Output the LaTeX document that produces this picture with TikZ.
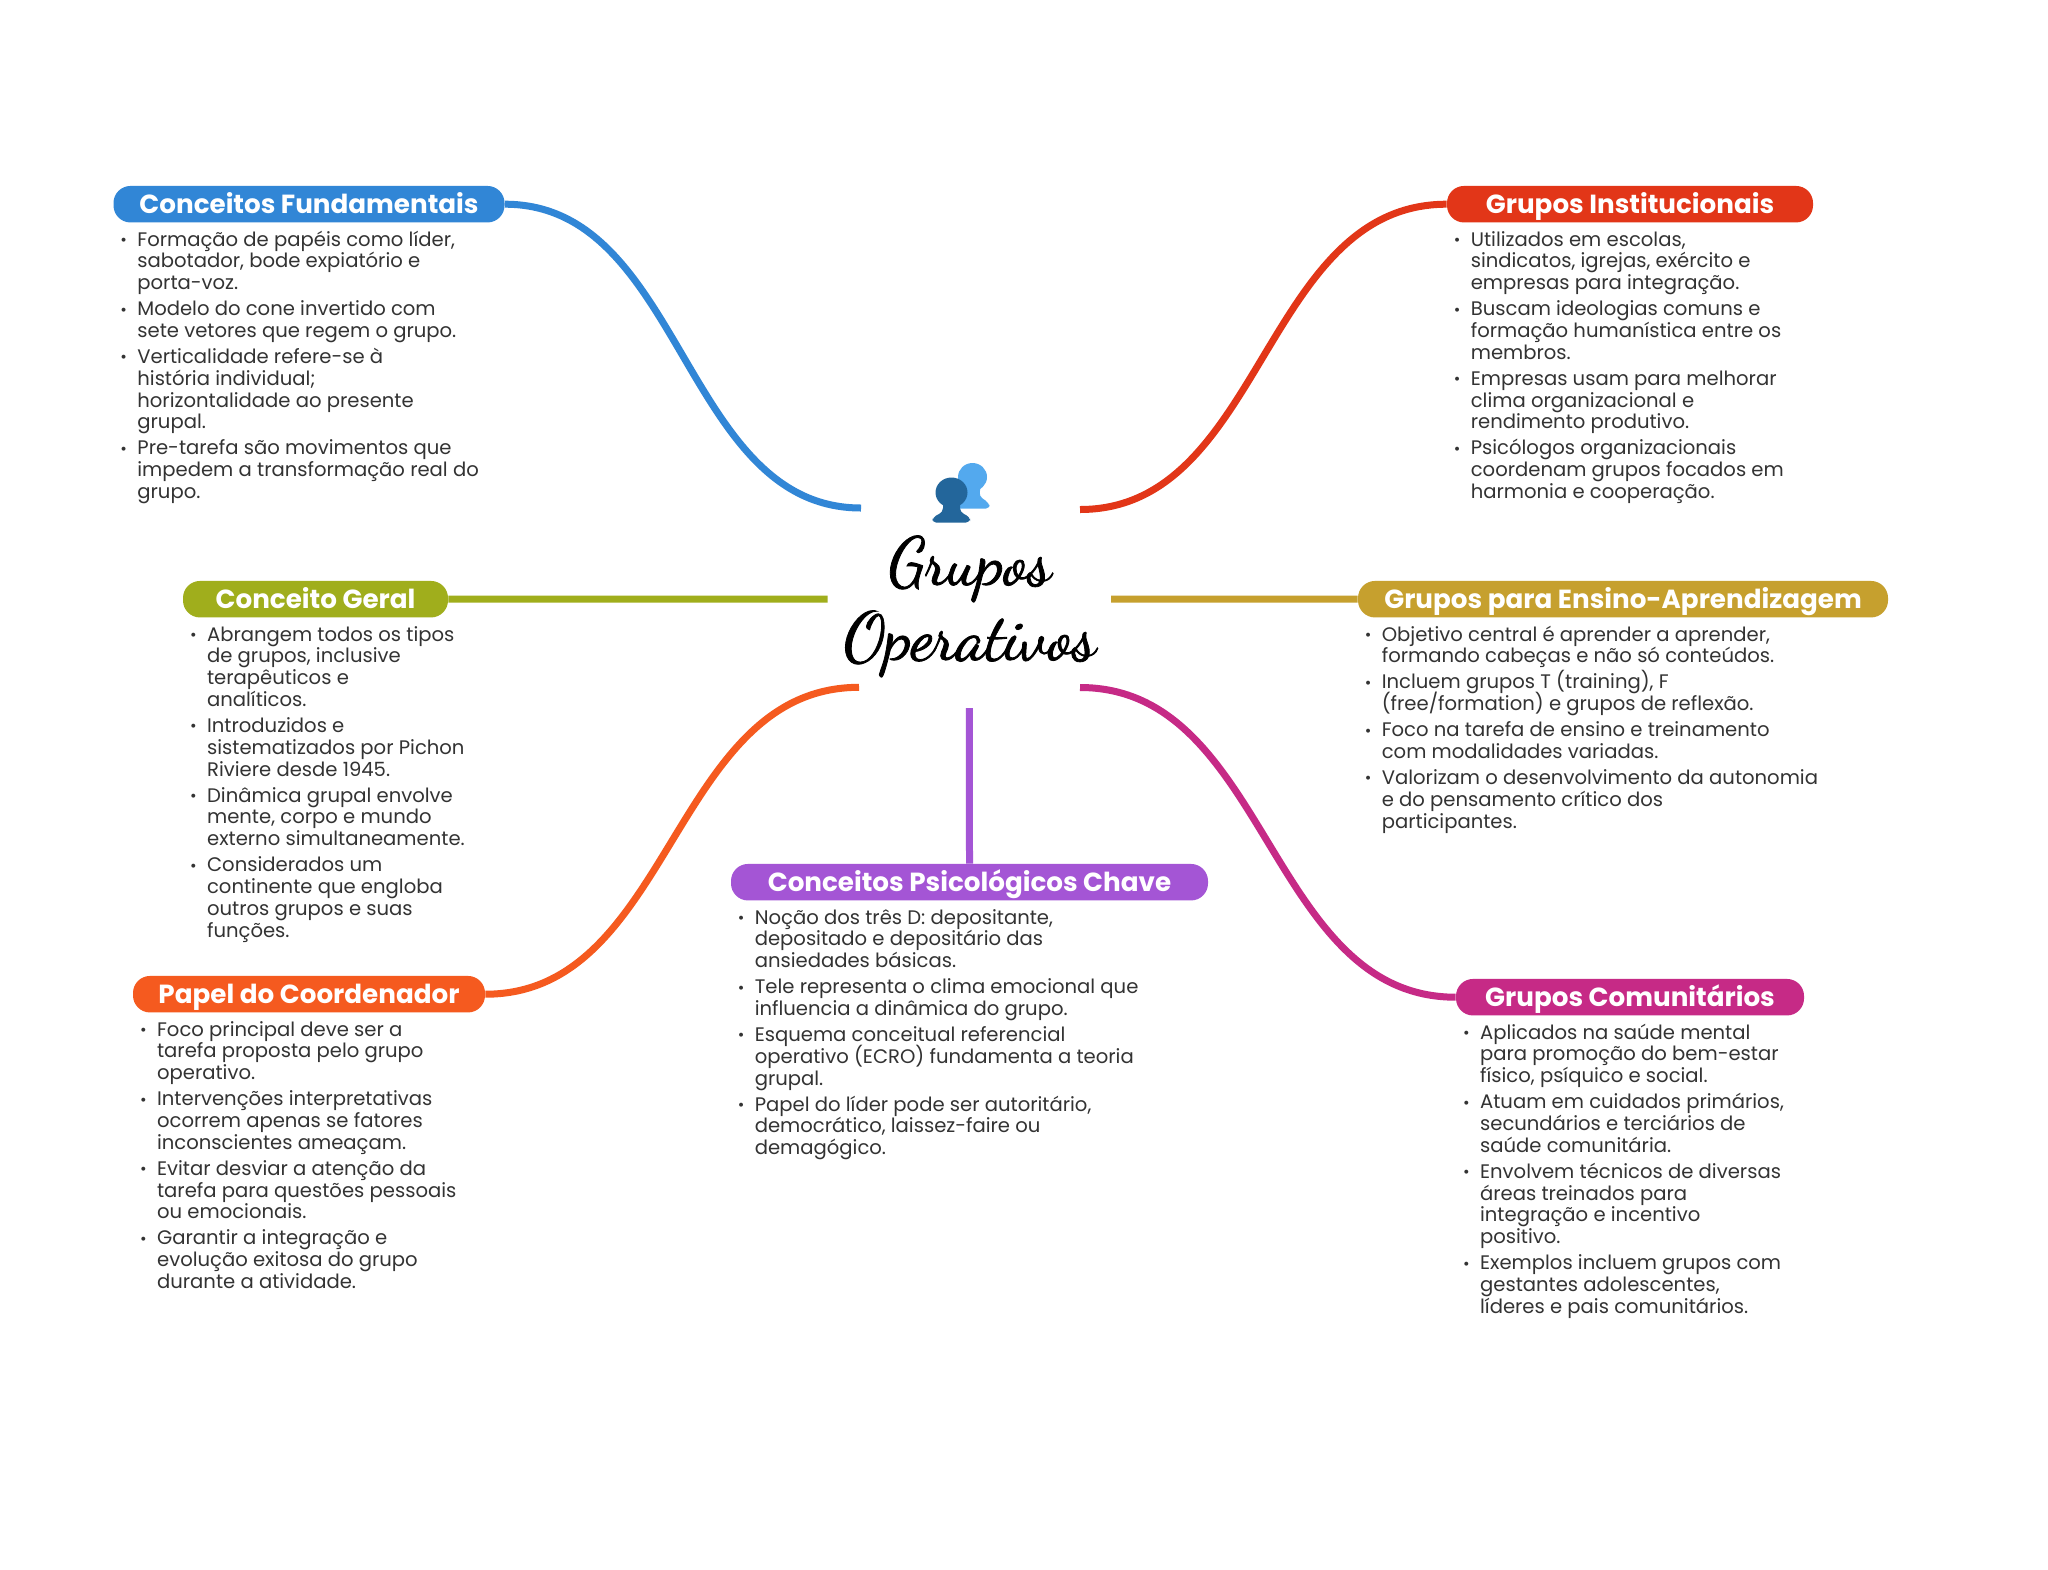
\documentclass[tikz,border=0pt]{standalone}
\usepackage{fontspec}
\setmainfont{Poppins}
\IfFontExistsTF{Dancing Script}{\newfontfamily\scriptfam{Dancing Script}[RawFeature={embolden=1.2}]\def\titlesize{33.4}}{\IfFontExistsTF{TeX Gyre Chorus}{\newfontfamily\scriptfam{TeX Gyre Chorus}[RawFeature={embolden=1.2}]\def\titlesize{38.2}}{\newfontfamily\scriptfam{Poppins}[ItalicFont=* Italic]\def\titlesize{30}}}
\definecolor{cblue}{HTML}{3186D6}
\definecolor{cred}{HTML}{E23618}
\definecolor{cgold}{HTML}{C6A02E}
\definecolor{colive}{HTML}{A0AE1C}
\definecolor{corange}{HTML}{F55A1F}
\definecolor{cpurple}{HTML}{A455D5}
\definecolor{cmag}{HTML}{C62A86}
\definecolor{ctext}{HTML}{333333}
\definecolor{cicond}{HTML}{23669B}
\definecolor{ciconl}{HTML}{53A9EE}
\newcommand{\itm}{\par\leavevmode\llap{\makebox[13.7pt][c]{\fontsize{8}{10.9}\selectfont\raisebox{0.3pt}{•}}}\ignorespaces}
\newcommand{\blist}[1]{\parbox[t]{300pt}{\fontsize{9.8}{10.9}\selectfont\lineskiplimit=-20pt\setlength{\parskip}{2.1pt}\setlength{\parindent}{0pt}\raggedright #1}}
\tikzset{
  x=0.5pt,y=-0.5pt,
  topicbox/.style={fill=#1,rounded corners=8.5pt,inner sep=0pt,text=white,font=\fontsize{13.1}{15}\selectfont\bfseries,text height=13.7pt,text depth=4.55pt,anchor=center},
  bulletlist/.style={anchor=base west,inner sep=0pt,text=ctext},
  link/.style={draw=#1,line width=3.5pt,line cap=butt},
}
\begin{document}
\begin{tikzpicture}
\useasboundingbox (0,0) rectangle (2048,1569);
\fill[white] (0,0) rectangle (2048,1569);
% icon
\fill[ciconl] (972.5,477) ellipse[x radius=14.5,y radius=14];
\fill[ciconl,rounded corners=2pt] (952,485) -- (952,508.5) -- (990,508.5) -- (989,503) -- (979,496) -- (981,485) -- cycle;
\fill[cicond] (951.5,492.5) ellipse[x radius=16,y radius=15];
\fill[cicond,rounded corners=2pt] (943,500) -- (943,512) -- (933,517) -- (932,522.5) -- (970,522.5) -- (970,517) -- (960,512) -- (960,500) -- cycle;
% title
\node (title) [anchor=base,inner sep=0pt] at (970,583.5) {\parbox[t]{240pt}{\centering\scriptfam\fontsize{\titlesize}{37.5}\selectfont Grupos\\Operativos}};
% anchors around the centre
\coordinate (cA) at (861,508);
\coordinate (cB) at (1080,509.5);
\coordinate (cC) at (1111,599);
\coordinate (cD) at (827.7,599);
\coordinate (cE) at (859,687.3);
\coordinate (cF) at (969.3,708);
\coordinate (cG) at (1080,687.5);
% topics
\node[topicbox=cblue,minimum width=195.5pt] (t1) at (309,204.2) {Conceitos Fundamentais};
\node[topicbox=cred,minimum width=183pt] (t2) at (1630,204.2) {Grupos Institucionais};
\node[topicbox=cgold,minimum width=265pt] (t3) at (1623,599.2) {Grupos para Ensino-Aprendizagem};
\node[topicbox=colive,minimum width=132.5pt] (t4) at (315.5,599.2) {Conceito Geral};
\node[topicbox=corange,minimum width=176pt] (t5) at (309,994.2) {Papel do Coordenador};
\node[topicbox=cpurple,minimum width=238.5pt] (t6) at (969.5,882.2) {Conceitos Psicológicos Chave};
\node[topicbox=cmag,minimum width=174pt] (t7) at (1630,997.2) {Grupos Comunitários};
% connectors
\draw[link=cblue] (t1.east) .. controls (683,204.2) and (683,508) .. (cA);
\draw[link=cred] (t2.west) .. controls (1263,204.2) and (1263,509.5) .. (cB);
\draw[link=cgold] (t3.west) -- (cC);
\draw[link=colive] (t4.east) -- (cD);
\draw[link=corange] (t5.east) .. controls (672,994.2) and (672,687.3) .. (cE);
\draw[link=cpurple] (t6.north) -- (cF);
\draw[link=cmag] (t7.west) .. controls (1268,997.2) and (1268,687.5) .. (cG);
% lists
\node[bulletlist] (l1) at (137,246) {\blist{\itm Formação de papéis como líder,\\sabotador, bode expiatório e\\porta-voz.
\itm Modelo do cone invertido com\\sete vetores que regem o grupo.
\itm Verticalidade refere-se à\\história individual;\\horizontalidade ao presente\\grupal.
\itm Pre-tarefa são movimentos que\\impedem a transformação real do\\grupo.}};
\node[bulletlist] (l2) at (1470.4,246) {\blist{\itm Utilizados em escolas,\\sindicatos, igrejas, exército e\\empresas para integração.
\itm Buscam ideologias comuns e\\formação humanística entre os\\membros.
\itm Empresas usam para melhorar\\clima organizacional e\\rendimento produtivo.
\itm Psicólogos organizacionais\\coordenam grupos focados em\\harmonia e cooperação.}};
\node[bulletlist] (l3) at (1381.4,641) {\blist{\itm Objetivo central é aprender a aprender,\\formando cabeças e não só conteúdos.
\itm Incluem grupos T (training), F\\(free/formation) e grupos de reflexão.
\itm Foco na tarefa de ensino e treinamento\\com modalidades variadas.
\itm Valorizam o desenvolvimento da autonomia\\e do pensamento crítico dos\\participantes.}};
\node[bulletlist] (l4) at (206.7,641) {\blist{\itm Abrangem todos os tipos\\de grupos, inclusive\\terapêuticos e\\analíticos.
\itm Introduzidos e\\sistematizados por Pichon\\Riviere desde 1945.
\itm Dinâmica grupal envolve\\mente, corpo e mundo\\externo simultaneamente.
\itm Considerados um\\continente que engloba\\outros grupos e suas\\funções.}};
\node[bulletlist] (l5) at (156.7,1036) {\blist{\itm Foco principal deve ser a\\tarefa proposta pelo grupo\\operativo.
\itm Intervenções interpretativas\\ocorrem apenas se fatores\\inconscientes ameaçam.
\itm Evitar desviar a atenção da\\tarefa para questões pessoais\\ou emocionais.
\itm Garantir a integração e\\evolução exitosa do grupo\\durante a atividade.}};
\node[bulletlist] (l6) at (754.4,924) {\blist{\itm Noção dos três D: depositante,\\depositado e depositário das\\ansiedades básicas.
\itm Tele representa o clima emocional que\\influencia a dinâmica do grupo.
\itm Esquema conceitual referencial\\operativo (ECRO) fundamenta a teoria\\grupal.
\itm Papel do líder pode ser autoritário,\\democrático, laissez-faire ou\\demagógico.}};
\node[bulletlist] (l7) at (1479.7,1039) {\blist{\itm Aplicados na saúde mental\\para promoção do bem-estar\\físico, psíquico e social.
\itm Atuam em cuidados primários,\\secundários e terciários de\\saúde comunitária.
\itm Envolvem técnicos de diversas\\áreas treinados para\\integração e incentivo\\positivo.
\itm Exemplos incluem grupos com\\gestantes adolescentes,\\líderes e pais comunitários.}};
\end{tikzpicture}
\end{document}
